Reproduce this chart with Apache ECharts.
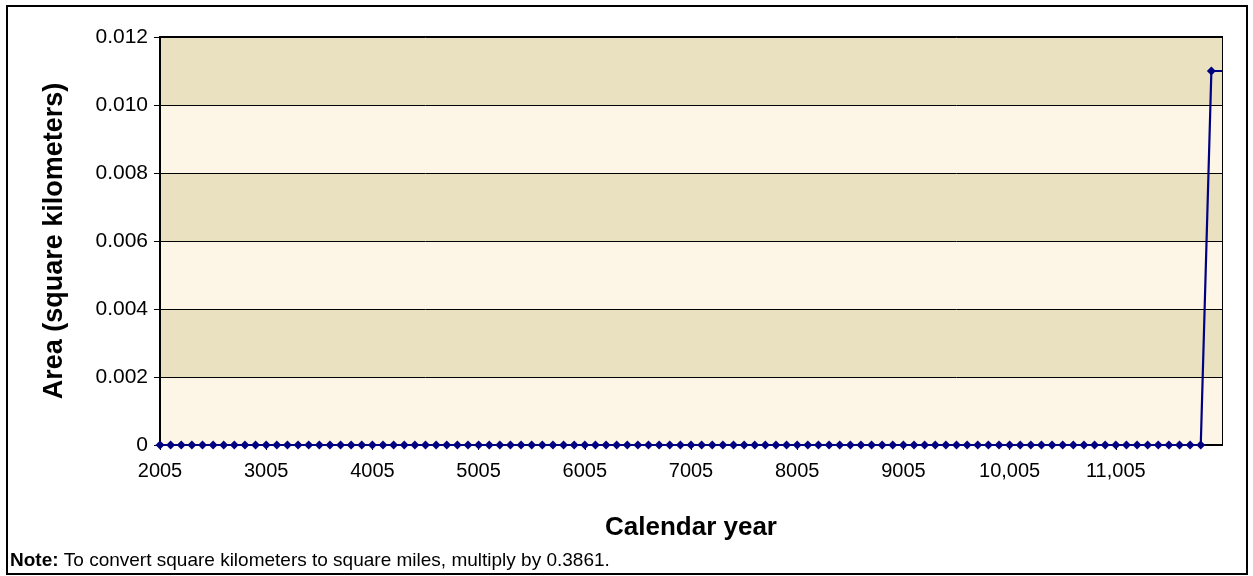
<!DOCTYPE html>
<html>
<head>
<meta charset="utf-8">
<script src="https://cdn.jsdelivr.net/npm/echarts@6/dist/echarts.min.js"></script>
<style>
  html, body { margin: 0; padding: 0; background: #fff; }
  #frame { position: absolute; left: 6px; top: 5px; width: 1238px; height: 566px; border: 2px solid #000; box-sizing: content-box; }
  #chart { position: absolute; left: 0; top: 0; width: 1253px; height: 576px; }
</style>
</head>
<body>
<div id="frame"></div>
<div id="chart"></div>
<script>
// Calendar years, one point per century
const years = [
  2005, 2105, 2205, 2305, 2405, 2505, 2605, 2705, 2805, 2905,
  3005, 3105, 3205, 3305, 3405, 3505, 3605, 3705, 3805, 3905,
  4005, 4105, 4205, 4305, 4405, 4505, 4605, 4705, 4805, 4905,
  5005, 5105, 5205, 5305, 5405, 5505, 5605, 5705, 5805, 5905,
  6005, 6105, 6205, 6305, 6405, 6505, 6605, 6705, 6805, 6905,
  7005, 7105, 7205, 7305, 7405, 7505, 7605, 7705, 7805, 7905,
  8005, 8105, 8205, 8305, 8405, 8505, 8605, 8705, 8805, 8905,
  9005, 9105, 9205, 9305, 9405, 9505, 9605, 9705, 9805, 9905,
  10005, 10105, 10205, 10305, 10405, 10505, 10605, 10705, 10805, 10905,
  11005, 11105, 11205, 11305, 11405, 11505, 11605, 11705, 11805, 11905,
  12005
];

// Area in square kilometers
const area = [
  0, 0, 0, 0, 0, 0, 0, 0, 0, 0,
  0, 0, 0, 0, 0, 0, 0, 0, 0, 0,
  0, 0, 0, 0, 0, 0, 0, 0, 0, 0,
  0, 0, 0, 0, 0, 0, 0, 0, 0, 0,
  0, 0, 0, 0, 0, 0, 0, 0, 0, 0,
  0, 0, 0, 0, 0, 0, 0, 0, 0, 0,
  0, 0, 0, 0, 0, 0, 0, 0, 0, 0,
  0, 0, 0, 0, 0, 0, 0, 0, 0, 0,
  0, 0, 0, 0, 0, 0, 0, 0, 0, 0,
  0, 0, 0, 0, 0, 0, 0, 0, 0, 0.011,
  0.011
];

// Y axis tick labels
const yTicks = ['0', '0.002', '0.004', '0.006', '0.008', '0.010', '0.012'];

const font = 'Arial, "Liberation Sans", sans-serif';

function yearLabel(y) {
  const n = Number(y);
  return n >= 10000 ? n.toLocaleString('en-US') : String(n);
}

// the closing point only carries the line to the right edge
const seriesData = area.map((v, i) =>
  i === area.length - 1 ? { value: v, symbol: 'none' } : v
);

const labelEvery = (idx) => idx % 10 === 0 && idx < 100;

const chart = echarts.init(document.getElementById('chart'), null, { renderer: 'canvas' });
chart.setOption({
  animation: false,
  backgroundColor: 'transparent',
  grid: {
    left: 160, right: 31, top: 37, bottom: 131,
    show: true, borderColor: '#000', borderWidth: 2, backgroundColor: 'transparent'
  },
  xAxis: {
    type: 'category',
    data: years,
    boundaryGap: false,
    name: 'Calendar year',
    nameLocation: 'middle',
    nameGap: 70,
    nameTextStyle: { fontFamily: font, fontSize: 26, fontWeight: 'bold', color: '#000' },
    axisLine: { lineStyle: { color: '#000', width: 2 } },
    axisTick: {
      show: true, length: 5, lineStyle: { color: '#000', width: 1 },
      interval: labelEvery
    },
    axisLabel: {
      fontFamily: font, fontSize: 20, color: '#000', margin: 16,
      interval: labelEvery,
      formatter: yearLabel
    },
    splitLine: { show: false }
  },
  yAxis: {
    type: 'value',
    min: 0, max: 0.012, interval: 0.002,
    name: 'Area (square kilometers)',
    nameLocation: 'middle',
    nameGap: 92,
    nameTextStyle: { fontFamily: font, fontSize: 27, fontWeight: 'bold', color: '#000' },
    axisLine: { show: true, lineStyle: { color: '#000', width: 2 } },
    axisTick: { show: true, length: 6, lineStyle: { color: '#000', width: 1 } },
    axisLabel: {
      fontFamily: font, fontSize: 21, color: '#000', margin: 12,
      formatter: (v) => yTicks[Math.round(v / 0.002)]
    },
    splitLine: { show: true, lineStyle: { color: '#000', width: 1 } },
    splitArea: { show: true, areaStyle: { color: ['#FDF6E7', '#EAE1C1'] } }
  },
  series: [{
    type: 'line',
    data: seriesData,
    symbol: 'diamond',
    symbolSize: 9,
    showSymbol: true,
    showAllSymbol: true,
    clip: false,
    lineStyle: { color: '#000080', width: 2.2 },
    itemStyle: { color: '#000080' }
  }],
  graphic: [{
    type: 'text',
    left: 10, top: 551,
    style: {
      text: '{b|Note:} To convert square kilometers to square miles, multiply by 0.3861.',
      rich: {
        b: { fontFamily: font, fontSize: 19, fontWeight: 'bold', fill: '#000' }
      },
      font: '19px ' + font,
      fill: '#000'
    }
  }]
});
</script>
</body>
</html>
